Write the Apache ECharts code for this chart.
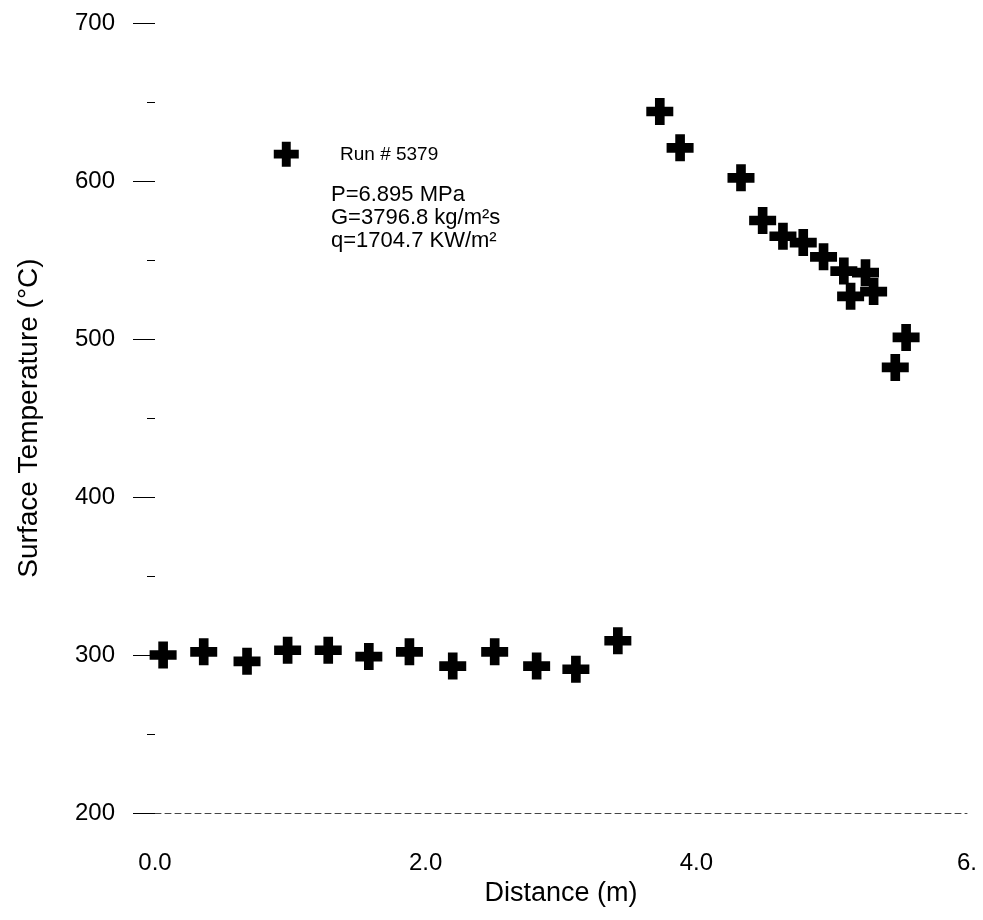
<!DOCTYPE html>
<html><head><meta charset="utf-8">
<script src="https://cdn.jsdelivr.net/npm/echarts@6/dist/echarts.min.js"></script>
<style>html,body{margin:0;padding:0;background:#fff}#c{width:983px;height:920px}</style>
</head><body><div id="c"></div>
<script>
// Data (Distance m, Surface Temperature °C)
const distance = [0.06,0.36,0.68,0.98,1.28,1.58,1.88,2.20,2.51,2.82,3.11,3.42,
                  3.73,3.88,4.33,4.49,4.64,4.79,4.94,5.09,5.25,5.14,5.31,5.55,5.47];
const temperature = [300,302,296,303,303,299,302,293,302,293,291,309,
                     644,621,602,575,565,561,552,543,542,527,530,501,482];
const keyPoint = [[0.97, 617]];
const xTicks = ["0.0","2.0","4.0","6."];
const annoRun = "Run # 5379";
const annoLines = ["P=6.895 MPa","G=3796.8 kg/m²s","q=1704.7 KW/m²"];

const cross = 'path://M9,0H19V9H28V19H19V28H9V19H0V9H9Z';
const FONT = '"Liberation Sans", Arial, sans-serif';
const chart = echarts.init(document.getElementById('c'));
chart.setOption({
  animation:false,
  backgroundColor:'#fff',
  grid:{left:155,right:16,top:23,bottom:107,containLabel:false},
  xAxis:{
    type:'value',min:0,max:6,interval:2,
    name:'Distance (m)',nameLocation:'middle',nameGap:67,
    nameTextStyle:{fontFamily:FONT,fontSize:27,color:'#000'},
    axisLine:{show:true,lineStyle:{color:'#444',width:1,type:[6,4]}},
    axisTick:{show:false},
    splitLine:{show:false},
    axisLabel:{margin:38,fontFamily:FONT,fontSize:24,color:'#000',
      formatter:v=>xTicks[Math.round(v/2)]}
  },
  yAxis:{
    type:'value',min:200,max:700,interval:100,
    name:'Surface Temperature (°C)',nameLocation:'middle',nameGap:112,
    nameTextStyle:{fontFamily:FONT,fontSize:28,color:'#000'},
    axisLine:{show:false},
    axisTick:{show:true,inside:false,length:22,lineStyle:{color:'#000',width:1}},
    minorTick:{show:true,splitNumber:2,length:8,lineStyle:{color:'#000',width:1}},
    splitLine:{show:false},
    axisLabel:{margin:40,fontFamily:FONT,fontSize:24,color:'#000'}
  },
  series:[
    {type:'scatter',symbol:cross,symbolSize:27,itemStyle:{color:'#000',opacity:1},
     data:distance.map((d,i)=>[d,temperature[i]])},
    {type:'scatter',symbol:cross,symbolSize:25,itemStyle:{color:'#000',opacity:1},
     data:keyPoint}
  ],
  graphic:[
    {type:'text',left:340,top:145,style:{text:annoRun,font:'19px '+FONT,fill:'#000'}},
    {type:'text',left:331,top:183,style:{text:annoLines.join('\n'),font:'22px '+FONT,lineHeight:23,fill:'#000'}}
  ]
});
</script></body></html>
